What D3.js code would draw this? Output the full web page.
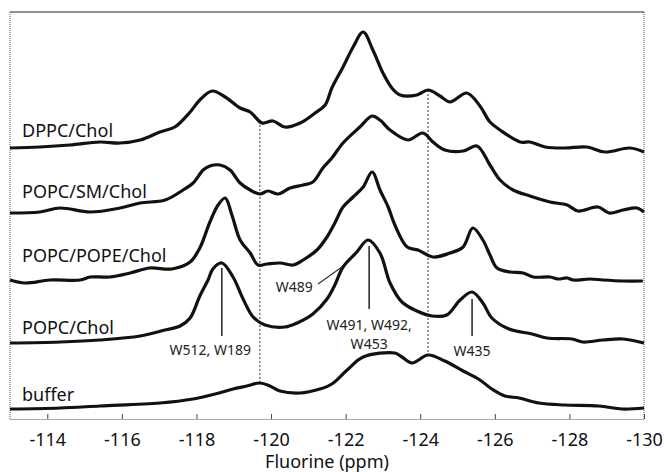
<!DOCTYPE html>
<html>
<head>
<meta charset="utf-8">
<script src="https://cdn.jsdelivr.net/npm/d3@7"></script>
<style>
  body { margin: 0; background: #fff; }
  svg { display: block; font-family: "Noto Sans", "Open Sans", sans-serif; }
</style>
</head>
<body>
<div id="container"></div>
<script>
// series names, top to bottom
var nomes = ["DPPC/Chol", "POPC/SM/Chol", "POPC/POPE/Chol", "POPC/Chol", "buffer"];
// vertical stacking offset of each trace (arbitrary intensity units)
var offsets = [271, 207, 138, 76, 10];

// chemical shift (ppm) and intensity
var ppmDPPC = [-113.00,-113.80,-114.61,-115.41,-115.95,-116.49,-117.02,-117.42,-117.83,-118.09,-118.42,-118.77,-119.17,-119.44,-119.76,-120.05,-120.37,-120.78,-121.18,-121.45,-121.63,-121.93,-122.20,-122.47,-122.73,-123.00,-123.24,-123.46,-123.91,-124.21,-124.53,-124.80,-125.25,-125.60,-125.87,-126.14,-126.68,-126.94,-127.35,-127.88,-128.47,-128.95,-129.62,-130.00];
var intDPPC = [0,1,3,6,5,8,16,21,36,48,57,51,40,36,25,27,21,25,35,43,60,81,101,116,98,75,60,53,53,58,52,46,55,42,26,18,6,6,1,0,1,-4,0,-4];

var ppmSM = [-113.00,-113.80,-114.34,-115.15,-115.95,-116.49,-117.16,-117.64,-117.91,-118.18,-118.36,-118.63,-118.90,-119.17,-119.44,-119.70,-119.92,-120.19,-120.51,-120.86,-121.12,-121.39,-121.63,-121.93,-122.38,-122.71,-122.92,-123.19,-123.67,-124.07,-124.34,-124.66,-125.15,-125.52,-125.87,-126.14,-126.49,-126.94,-127.48,-127.94,-128.23,-128.77,-129.06,-129.44,-129.81,-130.00];
var intSM = [-1,0,4,0,4,9,12,22,29,42,46,47,42,29,22,18,21,18,24,27,30,44,54,69,85,96,92,82,72,79,70,62,61,66,47,32,22,16,10,7,1,5,-1,2,4,0];

var ppmPOPE = [-113.00,-113.40,-114.07,-114.88,-115.15,-115.68,-116.22,-116.75,-117.34,-117.83,-118.09,-118.36,-118.58,-118.77,-118.95,-119.17,-119.44,-119.65,-119.89,-120.24,-120.59,-120.86,-121.23,-121.50,-121.71,-121.93,-122.20,-122.47,-122.71,-122.92,-123.14,-123.32,-123.65,-123.94,-124.34,-124.80,-125.15,-125.41,-125.68,-125.87,-126.06,-126.41,-126.76,-127.03,-127.48,-127.69,-127.94,-128.10,-128.55,-128.90,-129.44,-129.97];
var intPOPE = [1,-2,1,1,4,4,8,13,12,19,33,59,76,83,66,41,28,16,17,18,16,21,31,44,58,74,84,94,109,91,74,56,34,31,24,28,34,53,41,26,13,9,8,4,4,2,3,1,2,1,0,0];

var ppmPOPC = [-113.00,-114.34,-115.41,-116.49,-117.16,-117.56,-117.83,-118.09,-118.31,-118.44,-118.68,-118.98,-119.25,-119.52,-119.84,-120.37,-120.70,-121.12,-121.50,-121.71,-121.93,-122.30,-122.60,-122.92,-123.19,-123.51,-123.91,-124.32,-124.71,-125.07,-125.39,-125.68,-125.92,-126.38,-127.00,-127.40,-128.07,-128.36,-128.90,-129.44,-130.00];
var intPOPC = [0,1,3,7,13,17,25,47,63,74,80,66,44,26,18,16,20,29,44,58,76,91,103,90,60,41,32,27,28,43,51,40,25,14,9,5,4,1,3,4,0];

var ppmBuffer = [-113.00,-114.34,-115.41,-117.02,-117.91,-118.50,-118.98,-119.35,-119.70,-119.97,-120.24,-120.78,-121.31,-121.63,-122.04,-122.47,-123.32,-123.51,-123.78,-124.21,-124.66,-125.15,-125.60,-125.92,-126.27,-126.65,-127.18,-127.88,-128.79,-129.41,-130.00];
var intBuffer = [0,1,3,6,10,15,20,23,26,23,18,16,20,25,39,52,56,52,46,54,48,38,29,20,13,11,6,4,3,0,1];

var ticksX = [-114, -116, -118, -120, -122, -124, -126, -128, -130];
// dotted guide lines (ppm)
var guias = [-119.70, -124.21];

// peak assignments
var anotacoes = [
    {ppm: -118.68, textoPpm: -118.37, linhas: ["W512, W189"], topo: 151, base: 83, texto: 64},
    {ppm: -122.63, textoPpm: -122.63, linhas: ["W491, W492,", "W453"], topo: 173, base: 110, texto: 89},
    {ppm: -125.39, textoPpm: -125.39, linhas: ["W435"], topo: 120, base: 83, texto: 63}
];

var w = 664;
var h = 472;
var margem = {esq: 10, dir: 20, topo: 12, baixo: 53};

var svg = d3.select("div#container")
            .append("svg")
            .attr("width", w)
            .attr("height", h);

var x = d3.scaleLinear().domain([-113, -130]).range([margem.esq, w - margem.dir]);
var y = d3.scaleLinear().domain([0, 407]).range([h - margem.baixo, margem.topo]);

var tracos = [
    {ppm: ppmDPPC, val: intDPPC},
    {ppm: ppmSM, val: intSM},
    {ppm: ppmPOPE, val: intPOPE},
    {ppm: ppmPOPC, val: intPOPC},
    {ppm: ppmBuffer, val: intBuffer}
];

function valorEm(i, p) {
    var t = tracos[i];
    for (var k = 0; k < t.ppm.length - 1; k++) {
        if (p <= t.ppm[k] && p >= t.ppm[k + 1]) {
            var f = (p - t.ppm[k]) / (t.ppm[k + 1] - t.ppm[k]);
            return offsets[i] + t.val[k] + f * (t.val[k + 1] - t.val[k]);
        }
    }
    return offsets[i];
}

// frame
var x0 = x(-113), x1 = x(-130), yTop = y(407), yBot = y(0);
svg.append("line").attr("x1", x0).attr("x2", x1).attr("y1", yTop).attr("y2", yTop)
    .attr("stroke", "#222").attr("stroke-width", 1.2);
[x0, x1].forEach(function(xx) {
    svg.append("line").attr("x1", xx).attr("x2", xx).attr("y1", yTop).attr("y2", yBot)
        .attr("stroke", "#555").attr("stroke-width", 1).attr("stroke-dasharray", "1,1");
});

// bottom axis
var eixo = svg.append("g")
    .attr("transform", "translate(0," + yBot + ")")
    .call(d3.axisBottom(x).tickValues(ticksX).tickSizeInner(-5).tickSizeOuter(0).tickPadding(14)
        .tickFormat(function(d) { return String(d); }));
eixo.select(".domain").attr("stroke", "#555").attr("stroke-dasharray", "1,1");
eixo.selectAll(".tick line").attr("stroke", "#444");
eixo.selectAll("text").attr("font-size", 18).attr("fill", "#111")
    .attr("font-family", "\"Noto Sans\", sans-serif");

svg.append("text")
    .attr("x", (x0 + x1) / 2)
    .attr("y", 468)
    .attr("text-anchor", "middle")
    .attr("font-size", 18)
    .attr("fill", "#111")
    .text("Fluorine (ppm)");

// dotted guides from top trace down to buffer
guias.forEach(function(p) {
    svg.append("line")
        .attr("x1", x(p)).attr("x2", x(p))
        .attr("y1", y(valorEm(0, p))).attr("y2", y(valorEm(4, p)))
        .attr("stroke", "#333").attr("stroke-width", 1)
        .attr("stroke-dasharray", "2,2");
});

// traces
var linha = d3.line()
    .x(function(d) { return x(d[0]); })
    .y(function(d) { return y(d[1]); })
    .curve(d3.curveCatmullRom.alpha(0.5));

tracos.forEach(function(t, i) {
    var pts = t.ppm.map(function(p, k) { return [p, t.val[k] + offsets[i]]; });
    svg.append("path")
        .attr("d", linha(pts))
        .attr("fill", "none")
        .attr("stroke", "#111")
        .attr("stroke-width", 3.2)
        .attr("stroke-linejoin", "round");
});

// series labels
var alturaRotulo = [282, 221, 157, 85, 18];
nomes.forEach(function(n, i) {
    svg.append("text")
        .attr("x", 22)
        .attr("y", y(alturaRotulo[i]))
        .attr("font-size", 18)
        .attr("fill", "#111")
        .text(n);
});

// annotations
anotacoes.forEach(function(a) {
    svg.append("line")
        .attr("x1", x(a.ppm)).attr("x2", x(a.ppm))
        .attr("y1", y(a.topo)).attr("y2", y(a.base))
        .attr("stroke", "#222").attr("stroke-width", 1.5);
    a.linhas.forEach(function(l, k) {
        svg.append("text")
            .attr("x", x(a.textoPpm))
            .attr("y", y(a.texto) + k * 19)
            .attr("text-anchor", "middle")
            .attr("font-size", 14)
            .attr("fill", "#222")
            .text(l);
    });
});

// W489 with leader line
svg.append("text")
    .attr("x", x(-120.62))
    .attr("y", y(127))
    .attr("text-anchor", "middle")
    .attr("font-size", 14)
    .attr("fill", "#222")
    .text("W489");
svg.append("line")
    .attr("x1", x(-121.26)).attr("y1", y(135))
    .attr("x2", x(-121.90)).attr("y2", y(152))
    .attr("stroke", "#333").attr("stroke-width", 1.2);
</script>
</body>
</html>
